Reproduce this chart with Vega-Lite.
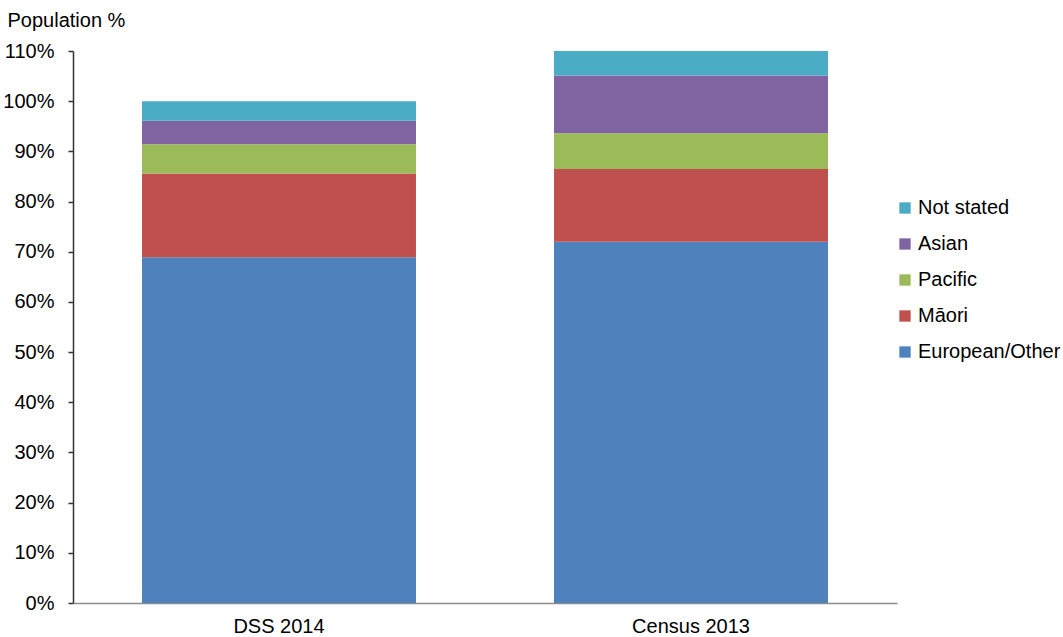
{
  "$schema": "https://vega.github.io/schema/vega-lite/v6.json",
  "autosize": "none",
  "width": 824,
  "height": 552,
  "padding": {"left": 73, "top": 51, "right": 166, "bottom": 34},
  "background": "white",
  "config": {
    "view": {"stroke": null},
    "font": "Liberation Sans",
    "text": {"font": "Liberation Sans"}
  },
  "data": {
    "values": [
      {"survey": "DSS 2014", "group": "European/Other", "rank": 1, "pct": 68.9},
      {"survey": "DSS 2014", "group": "Māori", "rank": 2, "pct": 16.7},
      {"survey": "DSS 2014", "group": "Pacific", "rank": 3, "pct": 5.8},
      {"survey": "DSS 2014", "group": "Asian", "rank": 4, "pct": 4.7},
      {"survey": "DSS 2014", "group": "Not stated", "rank": 5, "pct": 3.9},
      {"survey": "Census 2013", "group": "European/Other", "rank": 1, "pct": 72.0},
      {"survey": "Census 2013", "group": "Māori", "rank": 2, "pct": 14.5},
      {"survey": "Census 2013", "group": "Pacific", "rank": 3, "pct": 7.1},
      {"survey": "Census 2013", "group": "Asian", "rank": 4, "pct": 11.5},
      {"survey": "Census 2013", "group": "Not stated", "rank": 5, "pct": 4.9}
    ]
  },
  "mark": {"type": "bar"},
  "encoding": {
    "x": {
      "field": "survey",
      "type": "nominal",
      "sort": ["DSS 2014", "Census 2013"],
      "scale": {"paddingInner": 0.335, "paddingOuter": 0.1675},
      "axis": {
        "title": null,
        "labelAngle": 0,
        "ticks": false,
        "tickSize": 0,
        "labelPadding": 13,
        "labelFontSize": 20,
        "labelColor": "#000000",
        "labelFont": "Liberation Sans",
        "domainColor": "#8c8c8c",
        "domainWidth": 1.5
      }
    },
    "y": {
      "field": "pct",
      "type": "quantitative",
      "stack": "zero",
      "scale": {"domain": [0, 110], "nice": false},
      "axis": {
        "title": "Population %",
        "titleAngle": 0,
        "titleAlign": "left",
        "titleBaseline": "alphabetic",
        "titleX": -66,
        "titleY": -25,
        "titleFontSize": 20,
        "titleFontWeight": "normal",
        "titleColor": "#000000",
        "titleFont": "Liberation Sans",
        "values": [0, 10, 20, 30, 40, 50, 60, 70, 80, 90, 100, 110],
        "labelExpr": "datum.value + '%'",
        "labelFontSize": 20,
        "labelColor": "#000000",
        "labelFont": "Liberation Sans",
        "labelPadding": 14,
        "tickSize": 5,
        "tickColor": "#333333",
        "tickWidth": 1.5,
        "domainColor": "#333333",
        "domainWidth": 1.5,
        "grid": false
      }
    },
    "color": {
      "field": "group",
      "type": "nominal",
      "scale": {
        "domain": ["Not stated", "Asian", "Pacific", "Māori", "European/Other"],
        "range": ["#4BACC6", "#8064A2", "#9BBB59", "#C0504D", "#4F81BD"]
      },
      "legend": {
        "title": null,
        "orient": "none",
        "legendX": 822,
        "legendY": 147,
        "symbolType": "square",
        "symbolSize": 128,
        "symbolStrokeWidth": 0,
        "labelFontSize": 20,
        "labelColor": "#000000",
        "labelFont": "Liberation Sans",
        "labelOffset": 3,
        "rowPadding": 16,
        "padding": 0
      }
    },
    "order": {"field": "rank", "type": "quantitative", "sort": "ascending"}
  }
}
